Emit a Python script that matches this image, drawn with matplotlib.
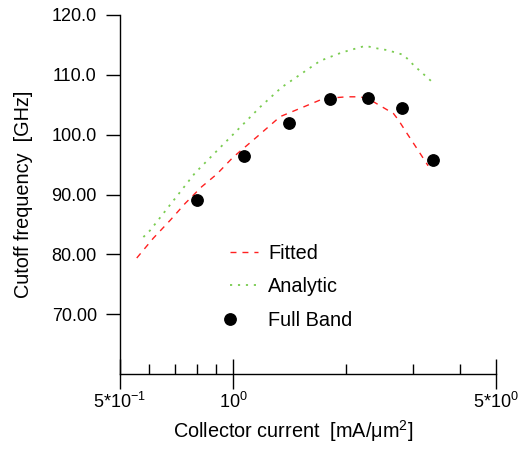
import matplotlib
matplotlib.use('Agg')
import matplotlib.pyplot as plt
import numpy as np
from matplotlib.legend_handler import HandlerLine2D
from matplotlib.ticker import FixedLocator, FixedFormatter, NullFormatter

plt.rcParams['font.family'] = ['Liberation Sans', 'DejaVu Sans']
plt.rcParams['mathtext.fontset'] = 'custom'
plt.rcParams['mathtext.rm'] = 'Liberation Sans'
plt.rcParams['mathtext.it'] = 'Liberation Sans:italic'
plt.rcParams['mathtext.bf'] = 'Liberation Sans:bold'

# ---- data ----
fitted_x = [0.555, 0.614, 0.681, 0.746, 0.826, 0.906, 1.0, 1.157, 1.335, 1.539,
            1.74, 2.007, 2.18, 2.315, 2.671, 2.754, 2.9, 3.08, 3.3]
fitted_y = [79.4, 82.7, 85.7, 88.5, 91.3, 93.4, 96.2, 99.6, 103.0, 104.6,
            106.0, 106.3, 106.3, 105.8, 103.5, 102.4, 100.2, 97.7, 94.8]

analytic_x = [0.578, 0.602, 0.793, 1.0, 1.181, 1.348, 1.524, 1.705, 1.947,
              2.246, 2.449, 2.566, 2.84, 3.03, 3.38]
analytic_y = [82.9, 84.0, 93.6, 100.0, 104.6, 107.9, 110.2, 112.3, 113.7,
              114.8, 114.3, 114.1, 113.3, 111.5, 108.8]

fullband_x = [0.80, 1.07, 1.41, 1.81, 2.28, 2.82, 3.41]
fullband_y = [89.1, 96.4, 101.9, 105.9, 106.1, 104.4, 95.8]

xtick_values = [0.5, 1.0, 5.0]
xtick_labels = [r'5*10$^{-1}$', r'10$^{0}$', r'5*10$^{0}$']
xminor_values = [0.6, 0.7, 0.8, 0.9, 2, 3, 4]
ytick_values = [70, 80, 90, 100, 110, 120]
ytick_labels = ['70.00', '80.00', '90.00', '100.0', '110.0', '120.0']

series_labels = ['Fitted', 'Analytic', 'Full Band']


class LeftMarkerHandler(HandlerLine2D):
    def get_xdata(self, legend, xdescent, ydescent, width, height, fontsize):
        xdata = np.array([-xdescent, -xdescent])
        return xdata, xdata


W, H = 522, 454
fig = plt.figure(figsize=(W / 100, H / 100), dpi=100)
x0, x1, y0, y1 = 119.7, 496.0, 14.7, 374.3
ax = fig.add_axes([x0 / W, 1 - y1 / H, (x1 - x0) / W, (y1 - y0) / H])

l1, = ax.plot(fitted_x, fitted_y, color='#ff2020', lw=1.0, ls=(0, (4.3, 4.3)),
              label=series_labels[0])
l2, = ax.plot(analytic_x, analytic_y, color='#7acc50', lw=1.3, ls=(0, (1.2, 3.2)),
              label=series_labels[1])
l3, = ax.plot(fullband_x, fullband_y, ls='none', marker='o', ms=8.2,
              color='black', label=series_labels[2])

ax.set_xscale('log')
ax.set_xlim(0.5, 5.0)
ax.set_ylim(60, 120)

for s in ['top', 'right']:
    ax.spines[s].set_visible(False)
for s in ['left', 'bottom']:
    ax.spines[s].set_linewidth(1.0)

ax.xaxis.set_major_locator(FixedLocator(xtick_values))
ax.xaxis.set_major_formatter(FixedFormatter(xtick_labels))
ax.xaxis.set_minor_locator(FixedLocator(xminor_values))
ax.xaxis.set_minor_formatter(NullFormatter())
ax.tick_params(axis='x', which='major', direction='inout', length=22, width=1.0,
               labelsize=13, pad=2)
ax.tick_params(axis='x', which='minor', direction='in', length=7, width=1.0)

ax.yaxis.set_major_locator(FixedLocator(ytick_values))
ax.yaxis.set_major_formatter(FixedFormatter(ytick_labels))
ax.yaxis.set_minor_locator(FixedLocator([]))
ax.tick_params(axis='y', which='major', direction='out', length=10, width=1.0,
               labelsize=13, pad=6.5)

fig.text(293 / W, 1 - 437.3 / H, r'Collector current  [mA/$\mathregular{\mu}$m$^{2}$]',
         ha='center', va='baseline', fontsize=14.3)
fig.text(24 / W, 1 - 194 / H, 'Cutoff frequency  [GHz]', rotation=90,
         ha='center', va='center', fontsize=14.3)

leg = ax.legend(handles=[l1, l2, l3], loc='upper left',
                bbox_to_anchor=(229.5 / W, 1 - 244 / H), bbox_transform=fig.transFigure,
                frameon=False, fontsize=14.3, handlelength=1.45, handletextpad=0.5,
                labelspacing=0.72, borderpad=0, borderaxespad=0, numpoints=1,
                handler_map={l3: LeftMarkerHandler()})

fig.savefig('out.png', dpi=100)
